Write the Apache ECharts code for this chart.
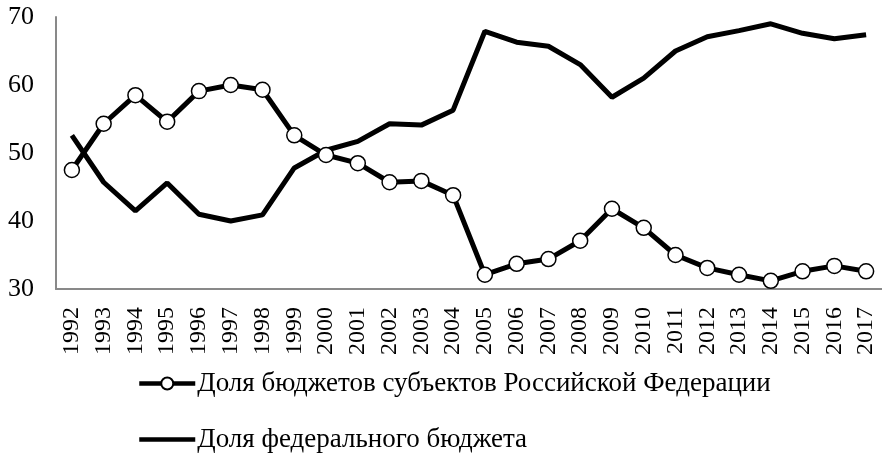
<!DOCTYPE html>
<html><head><meta charset="utf-8">
<script src="https://cdn.jsdelivr.net/npm/echarts@6/dist/echarts.min.js"></script>
<style>html,body{margin:0;padding:0;background:#fff}#c{width:882px;height:458px}</style>
</head><body><div id="c"></div>
<script>
const years = ['1992','1993','1994','1995','1996','1997','1998','1999','2000','2001','2002','2003','2004','2005','2006','2007','2008','2009','2010','2011','2012','2013','2014','2015','2016','2017'];
const regionalShare = [47.5,54.3,58.5,54.6,59.1,60.0,59.3,52.6,49.7,48.5,45.7,45.9,43.8,32.1,33.7,34.4,37.1,41.8,39.0,35.0,33.1,32.1,31.2,32.6,33.4,32.6];
const federalShare = [52.6,45.7,41.5,45.6,41.0,40.0,40.9,47.8,50.4,51.7,54.3,54.1,56.3,67.9,66.3,65.7,63.0,58.2,61.0,65.0,67.1,68.0,69.0,67.6,66.8,67.4];
const yTicks = [30,40,50,60,70];
const nameRegional = 'Доля бюджетов субъектов Российской Федерации';
const nameFederal = 'Доля федерального бюджета';

const chart = echarts.init(document.getElementById('c'));
const font = 'Liberation Serif';
chart.setOption({
  animation: false,
  textStyle: {fontFamily: font, color: '#000'},
  grid: {left: 56, top: 17, right: 0, bottom: 169, containLabel: false},
  xAxis: {
    type: 'category', data: years, boundaryGap: true,
    axisLine: {lineStyle: {color: '#898989', width: 2}},
    axisTick: {show: false},
    axisLabel: {rotate: 90, margin: 18, fontSize: 24, color: '#000', fontFamily: font, interval: 0}
  },
  yAxis: {
    type: 'value', min: yTicks[0], max: yTicks[yTicks.length-1], interval: 10,
    axisLine: {show: true, lineStyle: {color: '#898989', width: 2}},
    axisTick: {show: false},
    splitLine: {show: false},
    axisLabel: {margin: 22, fontSize: 26, color: '#000', fontFamily: font}
  },
  legend: {
    orient: 'vertical', left: 137, top: 370, height: 100, padding: 0, itemGap: 29,
    itemWidth: 56, itemHeight: 15,
    lineStyle: {width: 4.5},
    data: [
      {name: nameRegional},
      {name: nameFederal, icon: 'path://M0,0 L56,0 L56,4.5 L0,4.5 Z'}
    ],
    textStyle: {fontSize: 27, color: '#000', fontFamily: font, padding: [0,0,0,-3]}
  },
  series: [
    {
      name: nameFederal, type: 'line', data: federalShare,
      symbol: 'none', z: 2,
      lineStyle: {color: '#000', width: 5},
      itemStyle: {color: '#000'}
    },
    {
      name: nameRegional, type: 'line', data: regionalShare,
      symbol: 'circle', symbolSize: 15, z: 3,
      lineStyle: {color: '#000', width: 5},
      itemStyle: {color: '#fff', borderColor: '#000', borderWidth: 1.5}
    }
  ]
});
</script></body></html>
